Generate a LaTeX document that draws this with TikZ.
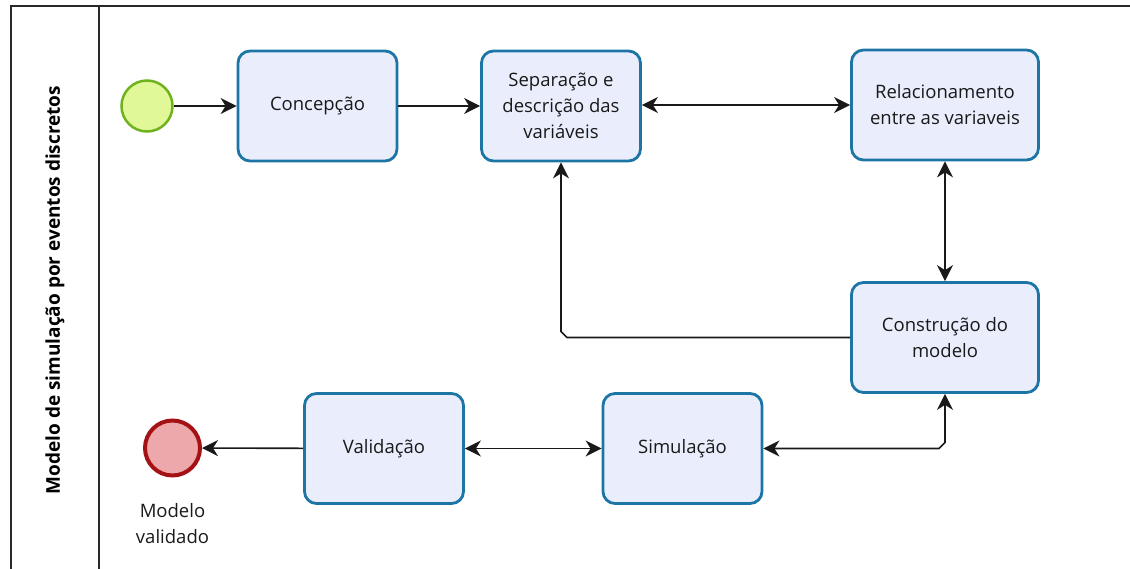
\documentclass[tikz,border=0pt]{standalone}
\usepackage{fontspec}
\setmainfont{Open Sans}
\usetikzlibrary{arrows.meta}
\definecolor{boxfill}{RGB}{234,238,252}
\definecolor{boxline}{RGB}{28,117,165}
\definecolor{startfill}{RGB}{224,248,152}
\definecolor{startline}{RGB}{112,178,30}
\definecolor{endfill}{RGB}{236,168,170}
\definecolor{endline}{RGB}{165,18,22}
\definecolor{poolline}{RGB}{40,40,40}
\tikzset{
  task/.style={draw=boxline, fill=boxfill, line width=2.8pt, rounded corners=12pt,
    minimum width=159pt, minimum height=110pt, inner sep=0pt, align=center,
    font=\fontsize{18.5}{26}\selectfont, text=black!90},
  widetask/.style={task, minimum width=187pt},
  startev/.style={circle, draw=startline, fill=startfill, line width=2.5pt, minimum size=51pt, inner sep=0pt},
  endev/.style={circle, draw=endline, fill=endfill, line width=4pt, minimum size=55pt, inner sep=0pt},
  tip/.tip={Stealth[length=16pt,width=16pt,inset=5pt]},
  flow/.style={line width=1.6pt, black!90, -tip},
  biflow/.style={line width=1.6pt, black!90, tip-tip},
  pool/.style={line width=1.8pt, draw=poolline},
  lbl/.style={align=center, font=\fontsize{18.5}{26}\selectfont, text=black!90},
}
\begin{document}
\begin{tikzpicture}[x=1pt,y=-1pt]
\useasboundingbox (0,0) rectangle (1130,569);
% pool
\draw[pool] (11,569) -- (11,6) -- (1130,6);
\draw[pool] (99,6) -- (99,569);
\node[rotate=90, font=\fontsize{19}{22}\selectfont\bfseries, text=black] (pooltitle) at (55,290) {Modelo de simulação por eventos discretos};
% nodes
\node[startev] (start) at (147,106) {};
\node[task] (conc) at (317.5,106) {Concepção};
\node[task] (sep) at (561,106) {Separação e\\descrição das\\variáveis};
\node[widetask] (rel) at (945,105) {Relacionamento\\entre as variaveis};
\node[widetask] (cons) at (945,337.5) {Construção do\\modelo};
\node[task] (sim) at (682.5,448.5) {Simulação};
\node[task] (val) at (384,448.5) {Validação};
\node[endev] (end) at (172.5,448) {};
\node[lbl] (endlbl) at (172.5,524) {Modelo\\validado};
% connectors
\draw[flow] (start) -- (conc);
\draw[flow] (conc) -- (sep);
\draw[biflow] (sep.east |- rel.west) -- (rel.west);
\draw[biflow] (rel) -- (cons);
\draw[flow] (cons.west) -- ([xshift=6pt]sep.south |- cons.west) -- ([yshift=6pt]sep.south |- cons.west) -- (sep.south);
\draw[biflow] (sim.east) -- ([xshift=-6pt]cons.south |- sim.east) -- ([yshift=6pt]cons.south |- sim.east) -- (cons.south);
\draw[biflow] (val) -- (sim);
\draw[flow] (val) -- (end);
\end{tikzpicture}
\end{document}
